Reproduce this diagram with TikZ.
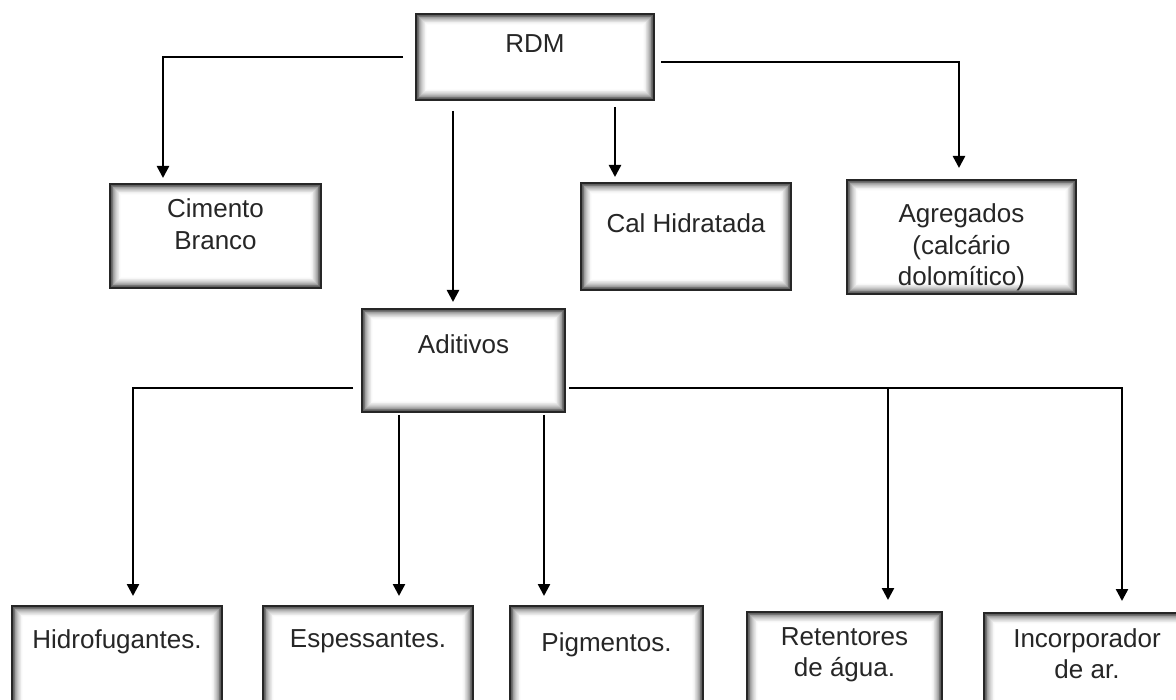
\documentclass[tikz,border=0pt]{standalone}
\usepackage{fontspec}
\setmainfont{Liberation Sans}
\usetikzlibrary{arrows.meta}
\tikzset{
  box/.style={draw=black!85, line width=1.3pt, rectangle, inner sep=0pt, outer sep=0pt,
    anchor=north west, text=black!85,
    path picture={
      \foreach \k/\c in {0/70,1/62,2/54,3/46,4/38,5/31,6/24,7/18,8/13,9/9,10/6,11/3,12/1}{
        \fill[black!\c] ([xshift=\k*0.85pt, yshift=-\k*0.85pt]path picture bounding box.north west)
          rectangle ([xshift=-\k*0.85pt, yshift=\k*0.85pt]path picture bounding box.south east);
      }
      \fill[white] ([xshift=11pt,yshift=-11pt]path picture bounding box.north west)
        rectangle ([xshift=-11pt,yshift=11pt]path picture bounding box.south east);
    }},
  arr/.style={line width=2.5pt, black, -{Triangle[width=12pt,length=12pt]}},
}
\newcommand{\boxtext}[4]{\parbox[c][#2pt][t]{#1pt}{\centering\fontsize{26}{31.5}\selectfont\rule{0pt}{#3pt}#4}}
\begin{document}
\begin{tikzpicture}[x=1pt,y=-1pt]
\useasboundingbox (0,0) rectangle (1176,700);
\clip (0,0) rectangle (1176,700);
\fill[white] (0,0) rectangle (1176,700);
% boxes
\node[box] (rdm) at (416,14)  {\boxtext{238}{86}{39}{RDM}};
\node[box] (cim) at (110,184) {\boxtext{211}{104}{34}{Cimento\\Branco}};
\node[box] (cal) at (581,183) {\boxtext{210}{107}{50}{Cal Hidratada}};
\node[box] (agr) at (847,180) {\boxtext{229}{114}{43}{Agregados\\(calcário\\dolomítico)}};
\node[box] (adi) at (362,309) {\boxtext{203}{103}{45}{Aditivos}};
\node[box] (hid) at (12,606)  {\boxtext{210}{110}{42}{Hidrofugantes.}};
\node[box] (esp) at (263,606) {\boxtext{210}{110}{41}{Espessantes.}};
\node[box] (pig) at (510,606) {\boxtext{193}{110}{45}{Pigmentos.}};
\node[box] (ret) at (747,612) {\boxtext{195}{110}{33}{Retentores\\de água.}};
\node[box] (inc) at (984,613) {\boxtext{206}{110}{34}{Incorporador\\de ar.}};
% connectors from RDM
\draw[arr, shorten >=6pt] ([xshift=-13pt]rdm.west) -| ([xshift=-52.5pt]cim.north);
\path ([xshift=-10.5pt]adi.north) coordinate (adtop);
\draw[arr, shorten <=11pt, shorten >=7pt] (adtop |- rdm.south) -- (adtop);
\path ([xshift=-71pt]cal.north) coordinate (caltop);
\draw[arr, shorten <=7pt, shorten >=6pt] (caltop |- rdm.south) -- (caltop);
\draw[arr, shorten >=12pt] ([xshift=7pt,yshift=-5pt]rdm.east) -| ([xshift=-2.5pt]agr.north);
% connectors from Aditivos
\draw[arr, shorten >=10pt] ([xshift=-9pt,yshift=-27.5pt]adi.west) -| ([xshift=16pt]hid.north);
\path ([xshift=31pt]esp.north) coordinate (esptop);
\draw[arr, shorten <=3pt, shorten >=10pt] (esptop |- adi.south) -- (esptop);
\path ([xshift=-62.5pt]pig.north) coordinate (pigtop);
\draw[arr, shorten <=3pt, shorten >=10pt] (pigtop |- adi.south) -- (pigtop);
\path ([xshift=4pt,yshift=-27.5pt]adi.east) coordinate (adr);
\draw[arr, shorten >=12pt] (adr) -| ([xshift=35pt]inc.north);
\path ([xshift=43.5pt]ret.north) coordinate (rettop);
\draw[arr, shorten >=12pt] (rettop |- adr) -- (rettop);
\end{tikzpicture}
\end{document}
